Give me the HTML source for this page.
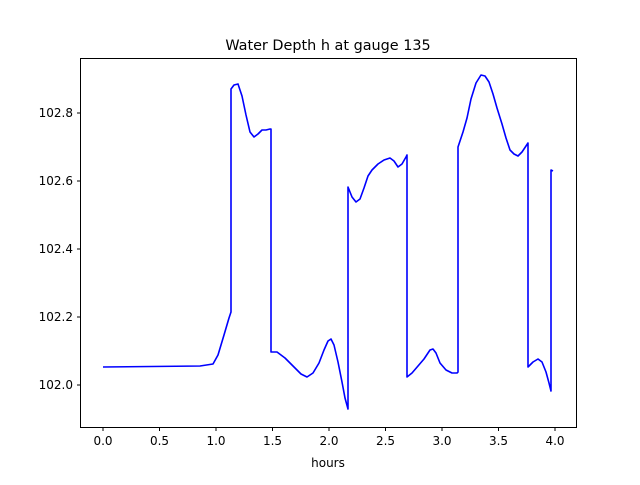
<!DOCTYPE html>
<html><head><meta charset="utf-8"><style>
body{margin:0;background:#fff;}
svg text{font-family:"DejaVu Sans","Liberation Sans",sans-serif;fill:#000;}
</style></head><body>
<svg width="640" height="480" viewBox="0 0 640 480" xmlns="http://www.w3.org/2000/svg">
<rect x="0" y="0" width="640" height="480" fill="#fff"/>
<text x="328" y="50" font-size="14.4" text-anchor="middle">Water Depth h at gauge 135</text>
<polyline fill="none" stroke="#0000ff" stroke-width="1.6" stroke-linejoin="round" points="
103,367 200,366 213,364 218,355 224,335 229,318 231,312 231,89 234,85 238,84 242,96 246,115 250,132 254,137 258,134 262,130 266,130 270,129 271,129
271,352 277,352 285,358 293,366 301,374 307,377 313,373 319,363 324,350 328,341 331,339 334,345 338,362 342,382 345,398 348,409
348,187 352,197 356,202 360,199 364,188 368,176 372,170 378,164 384,160 390,158 394,161 398,167 402,164 406,157 407,155
407,377 412,373 418,366 424,359 430,350 433,349 436,353 440,363 446,370 452,373 457,373 458,372
458,147 463,132 467,118 471,99 476,83 481,75 485,76 489,82 493,94 497,108 502,124 506,138 510,150 514,154 518,156 522,152 526,146 528,143
528,367 533,362 538,359 542,362 546,372 549,383 551,391 551,170 553,171"/>
<rect x="80.5" y="58.5" width="496" height="369" fill="none" stroke="#000" stroke-width="1"/>
<g stroke="#000" stroke-width="1">
<line x1="103" y1="427.5" x2="103" y2="431"/>
<line x1="159.5" y1="427.5" x2="159.5" y2="431"/>
<line x1="216" y1="427.5" x2="216" y2="431"/>
<line x1="272.5" y1="427.5" x2="272.5" y2="431"/>
<line x1="329" y1="427.5" x2="329" y2="431"/>
<line x1="385.5" y1="427.5" x2="385.5" y2="431"/>
<line x1="442" y1="427.5" x2="442" y2="431"/>
<line x1="498.5" y1="427.5" x2="498.5" y2="431"/>
<line x1="555" y1="427.5" x2="555" y2="431"/>
<line x1="77" y1="385" x2="80.5" y2="385"/>
<line x1="77" y1="317" x2="80.5" y2="317"/>
<line x1="77" y1="249" x2="80.5" y2="249"/>
<line x1="77" y1="181" x2="80.5" y2="181"/>
<line x1="77" y1="113" x2="80.5" y2="113"/>
</g>
<g font-size="12" text-anchor="middle">
<text x="103" y="445">0.0</text>
<text x="159.5" y="445">0.5</text>
<text x="216" y="445">1.0</text>
<text x="272.5" y="445">1.5</text>
<text x="329" y="445">2.0</text>
<text x="385.5" y="445">2.5</text>
<text x="442" y="445">3.0</text>
<text x="498.5" y="445">3.5</text>
<text x="555" y="445">4.0</text>
<text x="328" y="467">hours</text>
</g>
<g font-size="12" text-anchor="end">
<text x="73" y="389">102.0</text>
<text x="73" y="321">102.2</text>
<text x="73" y="253">102.4</text>
<text x="73" y="185">102.6</text>
<text x="73" y="117">102.8</text>
</g>
</svg>
</body></html>
